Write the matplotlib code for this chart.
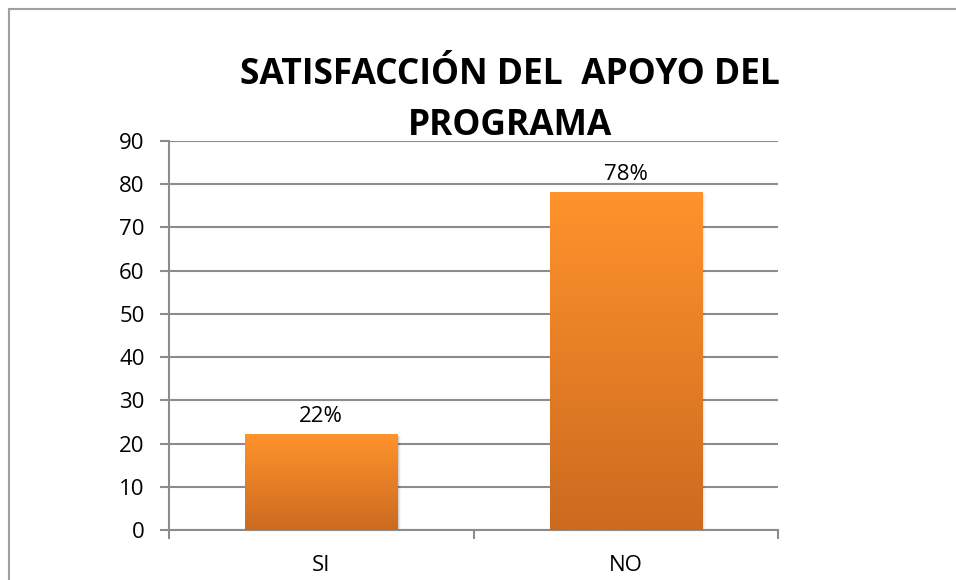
import numpy as np
import matplotlib
matplotlib.use("Agg")
import matplotlib.pyplot as plt
from matplotlib.patches import Rectangle
from matplotlib.colors import LinearSegmentedColormap

categorias = ["SI", "NO"]
valores = [22, 78]
etiquetas = ["22%", "78%"]
titulo = ["SATISFACCIÓN DEL  APOYO DEL", "PROGRAMA"]

plt.rcParams['font.family'] = ['Open Sans', 'DejaVu Sans']

fig = plt.figure(figsize=(9.56, 5.8), dpi=100)
ax = fig.add_axes([169/956, 1-530/580, (778-169)/956, (530-141)/580])

# marco del grafico (solo se ven arriba y a la izquierda)
fig.patches.append(Rectangle((8.5/956, -0.1), 1.2, 1 - 8.5/580 + 0.1, transform=fig.transFigure,
                             fill=False, edgecolor="#a0a0a0", lw=1.5))

x = np.arange(len(categorias))
bars = ax.bar(x, valores, width=0.5, color="none", zorder=3)

# degradado naranja de las barras
cmap = LinearSegmentedColormap.from_list("nar", ["#cc6a1f", "#ff932c"])
grad = np.linspace(0, 1, 256).reshape(-1, 1)
for b in bars:
    x0, w, h = b.get_x(), b.get_width(), b.get_height()
    # sombra suave a la derecha
    for k, a in enumerate([0.10, 0.06, 0.03]):
        ax.add_patch(Rectangle((x0 + 0.004 * (k + 1), -0.3), w, h + 0.1, color="black",
                               alpha=a, lw=0, zorder=2))
    ax.imshow(grad, extent=(x0, x0 + w, 0, h), origin="lower", cmap=cmap,
              aspect="auto", zorder=3)

for b, t in zip(bars, etiquetas):
    ax.text(b.get_x() + b.get_width() / 2, b.get_height() + 1.8, t,
            ha="center", va="bottom", fontsize=16)

ax.set_xlim(-0.5, 1.5)
ax.set_ylim(0, 90)
ax.set_yticks(range(0, 91, 10))
ax.yaxis.grid(True, color="#8c8c8c", lw=1.5, zorder=1)
ax.set_axisbelow(True)

ax.set_xticks(x)
ax.set_xticklabels(categorias)
ax.set_xticks([-0.5, 0.5, 1.5], minor=True)
ax.tick_params(axis="x", which="major", length=0, pad=18, labelsize=16)
ax.tick_params(axis="x", which="minor", length=6.5, width=1.5, color="#8c8c8c")
ax.tick_params(axis="y", length=6.5, width=1.5, color="#8c8c8c", labelsize=16, pad=11)

for s in ["top", "right"]:
    ax.spines[s].set_visible(False)
for s in ["left", "bottom"]:
    ax.spines[s].set_color("#8c8c8c")
    ax.spines[s].set_linewidth(1.5)

fig.text(510/956, 1-84/580, titulo[0], ha="center", va="baseline", fontsize=25.5,
         fontweight="bold")
fig.text(510/956, 1-135/580, titulo[1], ha="center", va="baseline", fontsize=25.5,
         fontweight="bold")

fig.savefig("out.png", dpi=100)
